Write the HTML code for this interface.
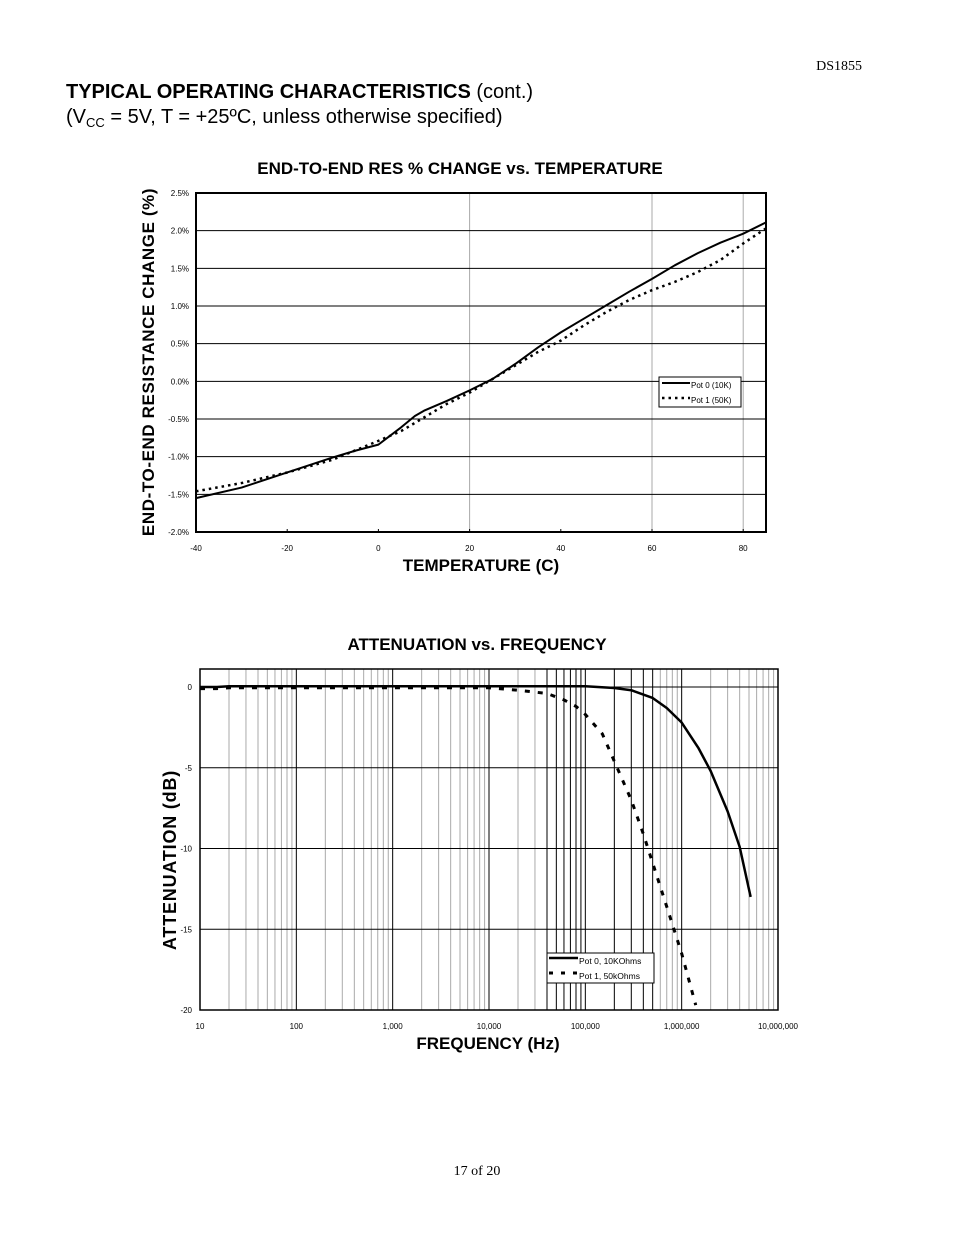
<!DOCTYPE html>
<html><head><meta charset="utf-8"><style>
body{margin:0;background:#fff;font-family:"Liberation Sans",sans-serif}
svg{display:block}
</style></head><body>
<svg width="954" height="1235" viewBox="0 0 954 1235">
<text x="862" y="70" text-anchor="end" font-family="Liberation Serif" font-size="14">DS1855</text>
<text x="66" y="98" font-size="20"><tspan font-weight="bold">TYPICAL OPERATING CHARACTERISTICS</tspan> (cont.)</text>
<text x="66" y="123" font-size="20">(V<tspan font-size="13" dy="4">CC</tspan><tspan dy="-4"> = 5V, T = +25ºC, unless otherwise specified)</tspan></text>
<g id="c1"></g>
<g id="c2"></g>
<text x="477" y="1175" text-anchor="middle" font-family="Liberation Serif" font-size="14">17 of 20</text>
</svg>
<script>
// Chart 1 data
const temps=[-40,-30,-20,-10,-5,0,5,8,10,15,20,25,30,35,40,45,50,55,60,65,70,75,80,85];
const pot0Res=[-1.55,-1.41,-1.21,-1.01,-0.92,-0.84,-0.61,-0.46,-0.39,-0.26,-0.12,0.03,0.23,0.45,0.65,0.83,1.01,1.19,1.36,1.54,1.70,1.84,1.96,2.11];
const temps1=[-40,-30,-20,-10,0,5,10,15,20,25,30,35,40,45,50,55,60,65,70,75,80,85];
const pot1Res=[-1.46,-1.35,-1.21,-1.04,-0.79,-0.66,-0.48,-0.30,-0.15,0.03,0.21,0.39,0.54,0.74,0.92,1.08,1.21,1.32,1.45,1.61,1.83,2.03];
const xTicks1=[-40,-20,0,20,40,60,80];
const yTicks1=[2.5,2.0,1.5,1.0,0.5,0.0,-0.5,-1.0,-1.5,-2.0];
// Chart 2 data
const freq0=[10,15,20,100,1000,10000,100000,200000,300000,500000,700000,1000000,1500000,2000000,3000000,4000000,5200000];
const pot0Att=[0,0,0.05,0.05,0.05,0.05,0.05,-0.06,-0.2,-0.68,-1.3,-2.2,-3.8,-5.2,-7.7,-9.9,-13.0];
const freq1=[10,15,20,100,1000,10000,20000,40000,60000,80000,100000,150000,200000,300000,400000,500000,700000,1000000,1400000];
const pot1Att=[-0.1,-0.1,-0.05,-0.05,-0.05,-0.05,-0.2,-0.4,-0.8,-1.2,-1.7,-2.9,-4.6,-7.0,-9.1,-10.9,-13.6,-16.5,-19.7];
const xTicks2=[10,100,1000,10000,100000,1000000,10000000];
const xTickLabels2=["10","100","1,000","10,000","100,000","1,000,000","10,000,000"];
const yTicks2=[0,-5,-10,-15,-20];

const NS="http://www.w3.org/2000/svg";
function mk(parent,tag,attrs,text){const e=document.createElementNS(NS,tag);for(const k in attrs)e.setAttribute(k,attrs[k]);if(text!==undefined)e.textContent=text;parent.appendChild(e);return e;}

// ---- Chart 1
(function(){
const g=document.getElementById('c1');
const L=196,R=766,T=193,B=532;
const x=t=>L+(t+40)/125*(R-L);
const y=v=>T+(2.5-v)/4.5*(B-T);
let e;
e=mk(g,'text',{x:460,y:174,'text-anchor':'middle','font-size':17,'font-weight':'bold'},'END-TO-END RES % CHANGE vs. TEMPERATURE');


[20,60,80].forEach(t=>{const l=mk(g,'line',{x1:x(t),x2:x(t),y1:T,y2:B,stroke:'#aaa','stroke-width':1});

});
yTicks1.forEach(v=>{
 if(v<2.5&&v>-2.0){const l=mk(g,'line',{x1:L,x2:R,y1:y(v),y2:y(v),stroke:'#000','stroke-width':1});
 
 }
 const t=mk(g,'text',{x:L-7,y:y(v)+3,'text-anchor':'end','font-size':8},v.toFixed(1)+'%');
 
 
});
xTicks1.forEach(v=>{
 const l=mk(g,'line',{x1:x(v),x2:x(v),y1:B-3,y2:B+1,stroke:'#000','stroke-width':1});
 
 
 const t=mk(g,'text',{x:x(v),y:B+19,'text-anchor':'middle','font-size':8},String(v));
 
 
});
e=mk(g,'rect',{x:L,y:T,width:R-L,height:B-T,fill:'none',stroke:'#000','stroke-width':2});


e=mk(g,'polyline',{points:temps.map((t,i)=>x(t)+','+y(pot0Res[i])).join(' '),fill:'none',stroke:'#000','stroke-width':2,'stroke-linejoin':'round'});


e=mk(g,'polyline',{points:temps1.map((t,i)=>x(t)+','+y(pot1Res[i])).join(' '),fill:'none',stroke:'#000','stroke-width':2.5,'stroke-dasharray':'2.5 4'});


const lg=mk(g,'g',{});


mk(lg,'rect',{x:659,y:377,width:82,height:30,fill:'#fff',stroke:'#000','stroke-width':1});
mk(lg,'line',{x1:662,x2:690,y1:383,y2:383,stroke:'#000','stroke-width':2});
mk(lg,'text',{x:691,y:388,'font-size':8},'Pot 0 (10K)');
mk(lg,'line',{x1:662,x2:690,y1:398,y2:398,stroke:'#000','stroke-width':2.5,'stroke-dasharray':'2.5 4'});
mk(lg,'text',{x:691,y:403,'font-size':8},'Pot 1 (50K)');
e=mk(g,'text',{x:481,y:571,'text-anchor':'middle','font-size':17,'font-weight':'bold'},'TEMPERATURE (C)');


e=mk(g,'text',{x:154,y:362,'text-anchor':'middle','font-size':17,'font-weight':'bold','letter-spacing':'0.6',transform:'rotate(-90 154 362)'},'END-TO-END RESISTANCE CHANGE (%)');


})();

// ---- Chart 2
(function(){
const g=document.getElementById('c2');
const L=200,R=778,T=669,B=1010;
const x=f=>L+(Math.log10(f)-1)/6*(R-L);
const y=v=>687+(-v)/20*(B-687);
let e;
e=mk(g,'text',{x:477,y:650,'text-anchor':'middle','font-size':17,'font-weight':'bold'},'ATTENUATION vs. FREQUENCY');


for(let d=1;d<7;d++){for(let m=1;m<10;m++){const f=m*Math.pow(10,d);const dark=(f>=40000&&f<=500000)||m===1;
 const l=mk(g,'line',{x1:x(f),x2:x(f),y1:T,y2:B,stroke:dark?'#000':'#aaa','stroke-width':1});
 
 }}
yTicks2.forEach(v=>{
 const l=mk(g,'line',{x1:L,x2:R,y1:y(v),y2:y(v),stroke:'#000','stroke-width':1});
 
 
 const t=mk(g,'text',{x:L-8,y:y(v)+3,'text-anchor':'end','font-size':8},String(v));
 
 
});
xTicks2.forEach((v,i)=>{
 const t=mk(g,'text',{x:x(v),y:B+19,'text-anchor':'middle','font-size':8},xTickLabels2[i]);
 
 
});
e=mk(g,'rect',{x:L,y:T,width:R-L,height:B-T,fill:'none',stroke:'#000','stroke-width':1.5});


e=mk(g,'polyline',{points:freq0.map((f,i)=>x(f)+','+y(pot0Att[i])).join(' '),fill:'none',stroke:'#000','stroke-width':2.5,'stroke-linejoin':'round'});


e=mk(g,'polyline',{points:freq1.map((f,i)=>x(f)+','+y(pot1Att[i])).join(' '),fill:'none',stroke:'#000','stroke-width':3,'stroke-dasharray':'5 8'});


const lg=mk(g,'g',{});


mk(lg,'rect',{x:547,y:953,width:107,height:30,fill:'#fff',stroke:'#000','stroke-width':1});
mk(lg,'line',{x1:549,x2:578,y1:958,y2:958,stroke:'#000','stroke-width':2.5});
mk(lg,'text',{x:579,y:964,'font-size':8.5},'Pot 0, 10KOhms');
mk(lg,'line',{x1:549,x2:578,y1:973,y2:973,stroke:'#000','stroke-width':3,'stroke-dasharray':'4 8'});
mk(lg,'text',{x:579,y:979,'font-size':8.5},'Pot 1, 50kOhms');
e=mk(g,'text',{x:488,y:1049,'text-anchor':'middle','font-size':17,'font-weight':'bold'},'FREQUENCY (Hz)');


e=mk(g,'text',{x:176,y:860,'text-anchor':'middle','font-size':18,'font-weight':'bold','letter-spacing':'0.8',transform:'rotate(-90 176 860)'},'ATTENUATION (dB)');


})();
</script>
</body></html>
